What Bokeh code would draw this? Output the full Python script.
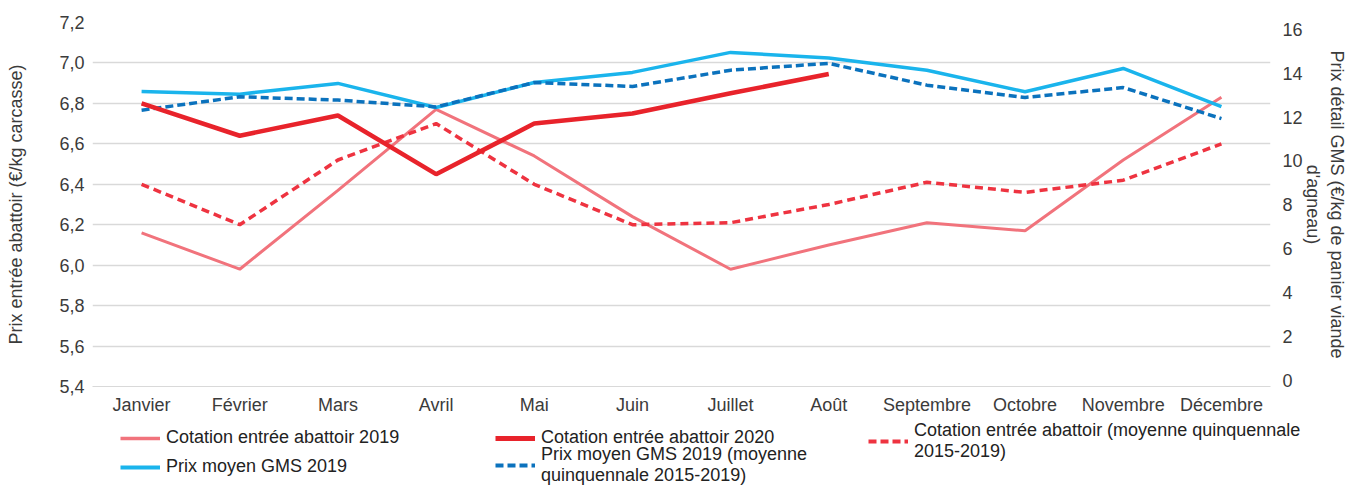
import numpy as np
from bokeh.plotting import figure
from bokeh.models import (Range1d, LinearAxis, FixedTicker, Legend, LegendItem,
                          FactorRange, ColumnDataSource)
from bokeh.embed import file_html
from bokeh.resources import INLINE

months = ["Janvier", "Février", "Mars", "Avril", "Mai", "Juin", "Juillet",
          "Août", "Septembre", "Octobre", "Novembre", "Décembre"]
cot_2019 = [6.16, 5.98, 6.37, 6.77, 6.54, 6.24, 5.98, 6.10, 6.21, 6.17, 6.52, 6.83]
cot_2020 = [6.80, 6.64, 6.74, 6.45, 6.70, 6.75, 6.85, 6.945]
cot_moy = [6.40, 6.20, 6.52, 6.70, 6.40, 6.20, 6.21, 6.30, 6.41, 6.36, 6.42, 6.60]
gms_2019 = [13.16, 13.04, 13.53, 12.43, 13.57, 14.03, 14.94, 14.68, 14.13, 13.15, 14.21, 12.47]
gms_moy = [12.31, 12.92, 12.77, 12.46, 13.57, 13.39, 14.13, 14.44, 13.45, 12.89, 13.34, 11.93]

left_ticks = [5.4, 5.6, 5.8, 6.0, 6.2, 6.4, 6.6, 6.8, 7.0, 7.2]
left_labels = ["5,4", "5,6", "5,8", "6,0", "6,2", "6,4", "6,6", "6,8", "7,0", "7,2"]
right_ticks = [0, 2, 4, 6, 8, 10, 12, 14, 16]

lab_cot2019 = "Cotation entrée abattoir 2019"
lab_cot2020 = "Cotation entrée abattoir 2020"
lab_cotmoy = "Cotation entrée abattoir (moyenne quinquennale\n2015-2019)"
lab_gms2019 = "Prix moyen GMS 2019"
lab_gmsmoy = "Prix moyen GMS 2019 (moyenne\nquinquennale 2015-2019)"

FONT = "Liberation Sans"
TXT = "#3b3b3b"
FS = "18px"

C_C19 = "#f1737c"
C_CM = "#ee3340"
C_G19 = "#1ab4ec"
C_GM = "#0b72bd"
C_C20 = "#e8232b"

p = figure(frame_width=1178, frame_height=364, x_range=FactorRange(*months),
           y_range=Range1d(5.4, 7.2), output_backend="svg", toolbar_location=None,
           min_border_left=92, min_border_right=76, min_border_top=22, min_border_bottom=34)
p.extra_y_ranges = {"right": Range1d(-0.26, 16.3)}
p.outline_line_color = None
p.background_fill_color = "white"

src_l = ColumnDataSource(dict(m=months, c19=cot_2019, cm=cot_moy))
src_20 = ColumnDataSource(dict(m=months[:len(cot_2020)], c20=cot_2020))
src_r = ColumnDataSource(dict(m=months, g19=gms_2019, gm=gms_moy))

p.line("m", "c19", source=src_l, color=C_C19, line_width=3)
p.line("m", "cm", source=src_l, color=C_CM, line_width=3.5, line_dash="8 5")
p.line("m", "g19", source=src_r, color=C_G19, line_width=3.5, y_range_name="right")
p.line("m", "gm", source=src_r, color=C_GM, line_width=3.5, line_dash="8 4",
       y_range_name="right")
p.line("m", "c20", source=src_20, color=C_C20, line_width=4.5)

# axes
xa = p.xaxis[0]
xa.axis_line_color = "#d9d9d9"
xa.major_tick_line_color = None
xa.minor_tick_line_color = None
xa.major_tick_out = 0
xa.major_label_text_font = FONT
xa.major_label_text_font_size = FS
xa.major_label_text_color = TXT
xa.major_label_standoff = 8

ya = p.yaxis[0]
ya.ticker = FixedTicker(ticks=left_ticks)
ya.major_label_overrides = {t: l for t, l in zip(left_ticks, left_labels)}
ya.axis_line_color = None
ya.major_tick_line_color = None
ya.minor_tick_line_color = None
ya.major_tick_out = 0
ya.major_label_text_font = FONT
ya.major_label_text_font_size = FS
ya.major_label_text_color = TXT
ya.major_label_standoff = 8
ya.axis_label = "Prix entrée abattoir (€/kg carcasse)"
ya.axis_label_text_font = FONT
ya.axis_label_text_font_size = FS
ya.axis_label_text_font_style = "normal"
ya.axis_label_text_color = TXT
ya.axis_label_standoff = 30

ra = LinearAxis(y_range_name="right", ticker=FixedTicker(ticks=right_ticks))
ra.axis_line_color = None
ra.major_tick_line_color = None
ra.minor_tick_line_color = None
ra.major_tick_out = 0
ra.major_label_text_font = FONT
ra.major_label_text_font_size = FS
ra.major_label_text_color = TXT
ra.major_label_standoff = 12
ra.axis_label = "Prix détail GMS (€/kg de panier viande\nd'agneau)"
ra.axis_label_text_font = FONT
ra.axis_label_text_font_size = FS
ra.axis_label_text_font_style = "normal"
ra.axis_label_text_color = TXT
ra.axis_label_standoff = -3
p.add_layout(ra, "right")

p.xgrid.grid_line_color = None
p.ygrid.ticker = FixedTicker(ticks=left_ticks)
p.ygrid.grid_line_color = "#d9d9d9"
p.ygrid.grid_line_width = 1.5

# legend strip below the chart (separate root so it is not aligned to the chart frame)
lf = figure(width=1346, height=66, x_range=Range1d(0, 1), y_range=Range1d(0, 1),
            output_backend="svg", toolbar_location=None,
            x_axis_location=None, y_axis_location=None,
            min_border_left=0, min_border_right=0, min_border_top=0, min_border_bottom=0)
lf.outline_line_color = None
lf.grid.visible = False

# placeholder sources (nothing drawn; only the legend samples use their styles)
ph = ColumnDataSource(dict(x=[np.nan], y=[np.nan]))
g_c19 = lf.line("x", "y", source=ph, color=C_C19, line_width=3.5)
g_c20 = lf.line("x", "y", source=ph, color=C_C20, line_width=5)
g_cm = lf.line("x", "y", source=ph, color=C_CM, line_width=4, line_dash="8 4")
g_g19 = lf.line("x", "y", source=ph, color=C_G19, line_width=4)
g_gm = lf.line("x", "y", source=ph, color=C_GM, line_width=4, line_dash="8 4")


def add_leg(label, rend, loc):
    lg = Legend(items=[LegendItem(label=label, renderers=[rend])], location=loc,
                orientation="horizontal", glyph_width=40, glyph_height=20,
                label_standoff=6, label_height=20, padding=0, margin=0, spacing=0,
                label_text_font=FONT, label_text_font_size=FS,
                label_text_color="#222222", background_fill_alpha=0,
                border_line_alpha=0)
    lf.add_layout(lg)


add_leg(lab_cot2019, g_c19, (120, 38))
add_leg(lab_cot2020, g_c20, (495, 38))
add_leg(lab_cotmoy, g_cm, (868, 24))
add_leg(lab_gms2019, g_g19, (120, 9))
add_leg(lab_gmsmoy, g_gm, (495, 0))

open("out.html", "w").write(file_html([p, lf], INLINE))
